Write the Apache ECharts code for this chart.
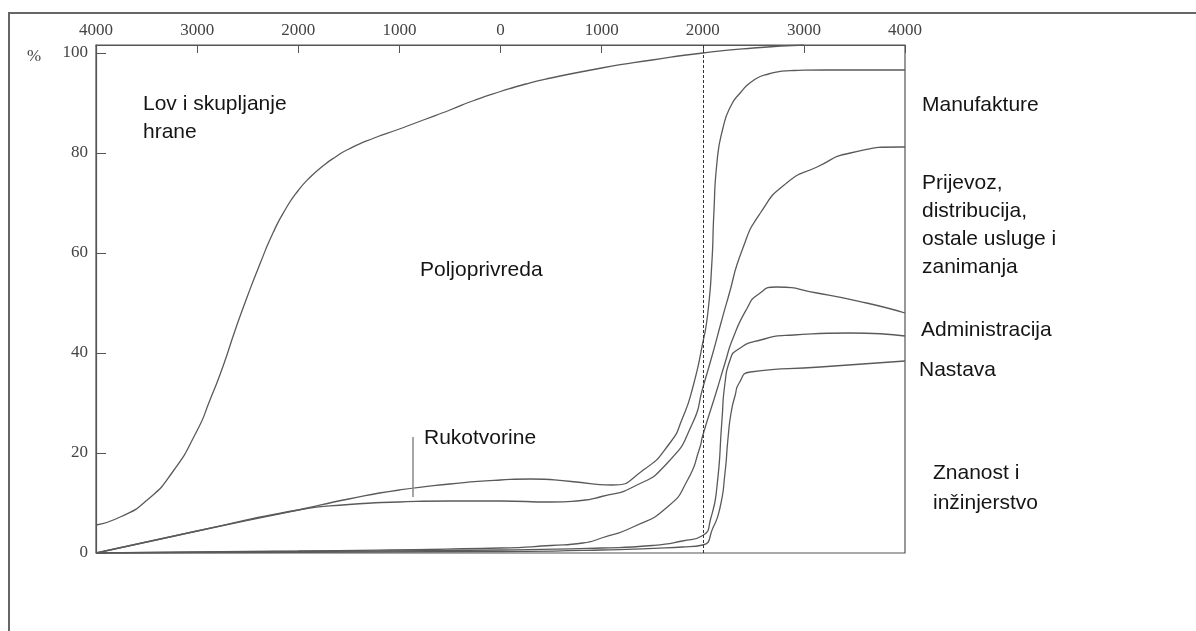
<!DOCTYPE html>
<html>
<head>
<meta charset="utf-8">
<title>Struktura zaposlenosti</title>
<script src="https://cdn.jsdelivr.net/npm/echarts@6/dist/echarts.min.js"></script>
<style>
  html, body { margin: 0; padding: 0; background: #fff; }
  #chart { width: 1196px; height: 631px; }
</style>
</head>
<body>
<div id="chart"></div>
<script>
// godine (pr. Kr. negativno) i postoci, očitano sa slike
const xTicks = [-4000, -3000, -2000, -1000, 0, 1000, 2000, 3000, 4000];
const yTicks = [0, 20, 40, 60, 80, 100];

// granica lov / poljoprivreda
const lovYears = [-4000, -3750, -3500, -3250, -3000, -2875, -2750, -2625, -2500, -2375, -2250, -2125, -2000, -1875, -1750, -1625, -1500, -1250, -1000, -750, -500, -250, 0, 250, 500, 1000, 1500, 2000, 2500, 3000];
const lovValues = [5.6, 7.3, 10.5, 16, 24.5, 30.5, 37, 44.5, 51.5, 58, 64, 68.8, 72.5, 75.3, 77.5, 79.3, 80.8, 83, 84.8, 86.7, 88.6, 90.6, 92.3, 93.8, 95, 97, 98.6, 100, 101, 101.6];

// gornja granica rukotvorina -> manufakture
const rukoGoreYears = [-4000, -3000, -2000, -1500, -1000, -500, 0, 300, 700, 1100, 1400, 1675, 1800, 1900, 2000, 2050, 2090, 2110, 2140, 2200, 2280, 2370, 2500, 2650, 2900, 3200, 4000];
const rukoGoreValues = [0, 4.4, 8.6, 10.8, 12.6, 13.8, 14.6, 14.8, 14.3, 13.6, 16.4, 22, 27, 33, 42, 48, 58, 68, 78, 85, 89.5, 92, 94.5, 95.8, 96.5, 96.6, 96.6];

// donja granica rukotvorina -> prijevoz i usluge
const rukoDoljeYears = [-4000, -3000, -2000, -1500, -1000, -500, 0, 500, 800, 1000, 1310, 1650, 1900, 2000, 2100, 2180, 2250, 2390, 2570, 2830, 3130, 3460, 3950, 4000];
const rukoDoljeValues = [0, 4.4, 8.6, 9.7, 10.2, 10.4, 10.4, 10.2, 10.5, 11.3, 13.2, 18, 26, 33, 40, 46, 51, 60.6, 68, 74, 77.2, 80, 81.2, 81.2];

// administracija (gornja granica)
const adminYears = [-4000, -2000, 0, 500, 815, 1000, 1310, 1650, 1850, 1970, 2000, 2140, 2220, 2300, 2440, 2540, 2730, 3130, 3620, 4000];
const adminValues = [0, 0.4, 1, 1.5, 2, 3, 5.2, 9.2, 14.6, 21, 23.5, 32.6, 38, 43, 49, 51.6, 53.2, 52, 50, 48];

// nastava (gornja granica)
const nastavaYears = [-4000, -2000, 0, 1000, 1500, 1800, 2000, 2080, 2140, 2190, 2220, 2270, 2340, 2570, 2900, 3460, 4000];
const nastavaValues = [0, 0.3, 0.6, 1, 1.5, 2.4, 3.5, 7, 13.2, 26.6, 34, 38.6, 40.6, 42.6, 43.6, 44, 43.4];

// znanost i inženjerstvo (gornja granica)
const znanostYears = [-4000, 0, 1000, 1800, 2000, 2100, 2170, 2220, 2250, 2280, 2320, 2360, 2470, 3160, 4000];
const znanostValues = [0, 0.3, 0.6, 1.2, 1.6, 5, 9, 16, 23, 28, 31.5, 34, 36.2, 37.2, 38.4];

const zip = (xs, ys) => xs.map((x, i) => [x, ys[i]]);

const curves = [
  zip(lovYears, lovValues),
  zip(rukoGoreYears, rukoGoreValues),
  zip(rukoDoljeYears, rukoDoljeValues),
  zip(adminYears, adminValues),
  zip(nastavaYears, nastavaValues),
  zip(znanostYears, znanostValues),
];

const sans = '"Liberation Sans", Arial, sans-serif';
const serif = '"Liberation Serif", "Times New Roman", serif';

function label(text, x, y, lh) {
  return {
    type: 'text',
    x: x,
    y: y,
    style: {
      text: text,
      font: '21px ' + sans,
      fill: '#151515',
      lineHeight: lh || 28,
      verticalAlign: 'top',
    },
  };
}

const chart = echarts.init(document.getElementById('chart'), null, { renderer: 'canvas' });

const series = curves.map((data, i) => {
  const s = {
    type: 'line',
    data: data,
    symbol: 'none',
    smooth: 0.6,
    silent: true,
    lineStyle: { color: '#5a5a5a', width: 1.3 },
  };
  if (i === 0) {
    s.markLine = {
      silent: true,
      symbol: 'none',
      label: { show: false },
      lineStyle: { color: '#333', width: 1, type: [3, 2] },
      data: [
        { xAxis: 2000 },
        [{ coord: [-865, 11.2], lineStyle: { type: 'solid', color: '#888', width: 1.5 } }, { coord: [-865, 23.2] }],
      ],
    };
  }
  return s;
});

const axisFont = { color: '#444', fontFamily: serif, fontSize: 17 };

const option = {
  animation: false,
  backgroundColor: '#fff',
  grid: {
    left: 96,
    top: 45,
    width: 809,
    height: 508,
    show: true,
    borderColor: '#555',
    borderWidth: 1.2,
  },
  xAxis: {
    type: 'value',
    position: 'top',
    min: xTicks[0],
    max: xTicks[xTicks.length - 1],
    interval: 1000,
    splitLine: { show: false },
    axisLine: { onZero: false, lineStyle: { color: '#555', width: 1.2 } },
    axisTick: { inside: true, length: 8, lineStyle: { color: '#555' } },
    axisLabel: Object.assign({
      margin: 6,
      formatter: v => String(Math.abs(v)),
    }, axisFont),
  },
  yAxis: {
    type: 'value',
    min: 0,
    max: 101.6,
    interval: 20,
    splitLine: { show: false },
    axisLine: { show: true, onZero: false, lineStyle: { color: '#555', width: 1.2 } },
    axisTick: { inside: true, length: 10, lineStyle: { color: '#555' } },
    axisLabel: Object.assign({
      margin: 8,
      showMaxLabel: false,
      formatter: v => (yTicks.indexOf(v) >= 0 ? String(v) : ''),
    }, axisFont),
  },
  series: series,
  graphic: [
    {
      type: 'polyline',
      shape: { points: [[9, 631], [9, 13], [1196, 13]] },
      style: { stroke: '#666', lineWidth: 2, fill: null },
      silent: true,
    },
    {
      type: 'text',
      x: 27,
      y: 48,
      style: { text: '%', font: '17px ' + serif, fill: '#444' },
    },
    label('Lov i skupljanje\nhrane', 143, 90),
    label('Poljoprivreda', 420, 256),
    label('Rukotvorine', 424, 424),
    label('Manufakture', 922, 91),
    label('Prijevoz,\ndistribucija,\nostale usluge i\nzanimanja', 922, 169),
    label('Administracija', 921, 316),
    label('Nastava', 919, 356),
    label('Znanost i\ninžinjerstvo', 933, 458, 30),
  ],
};

chart.setOption(option);
</script>
</body>
</html>
